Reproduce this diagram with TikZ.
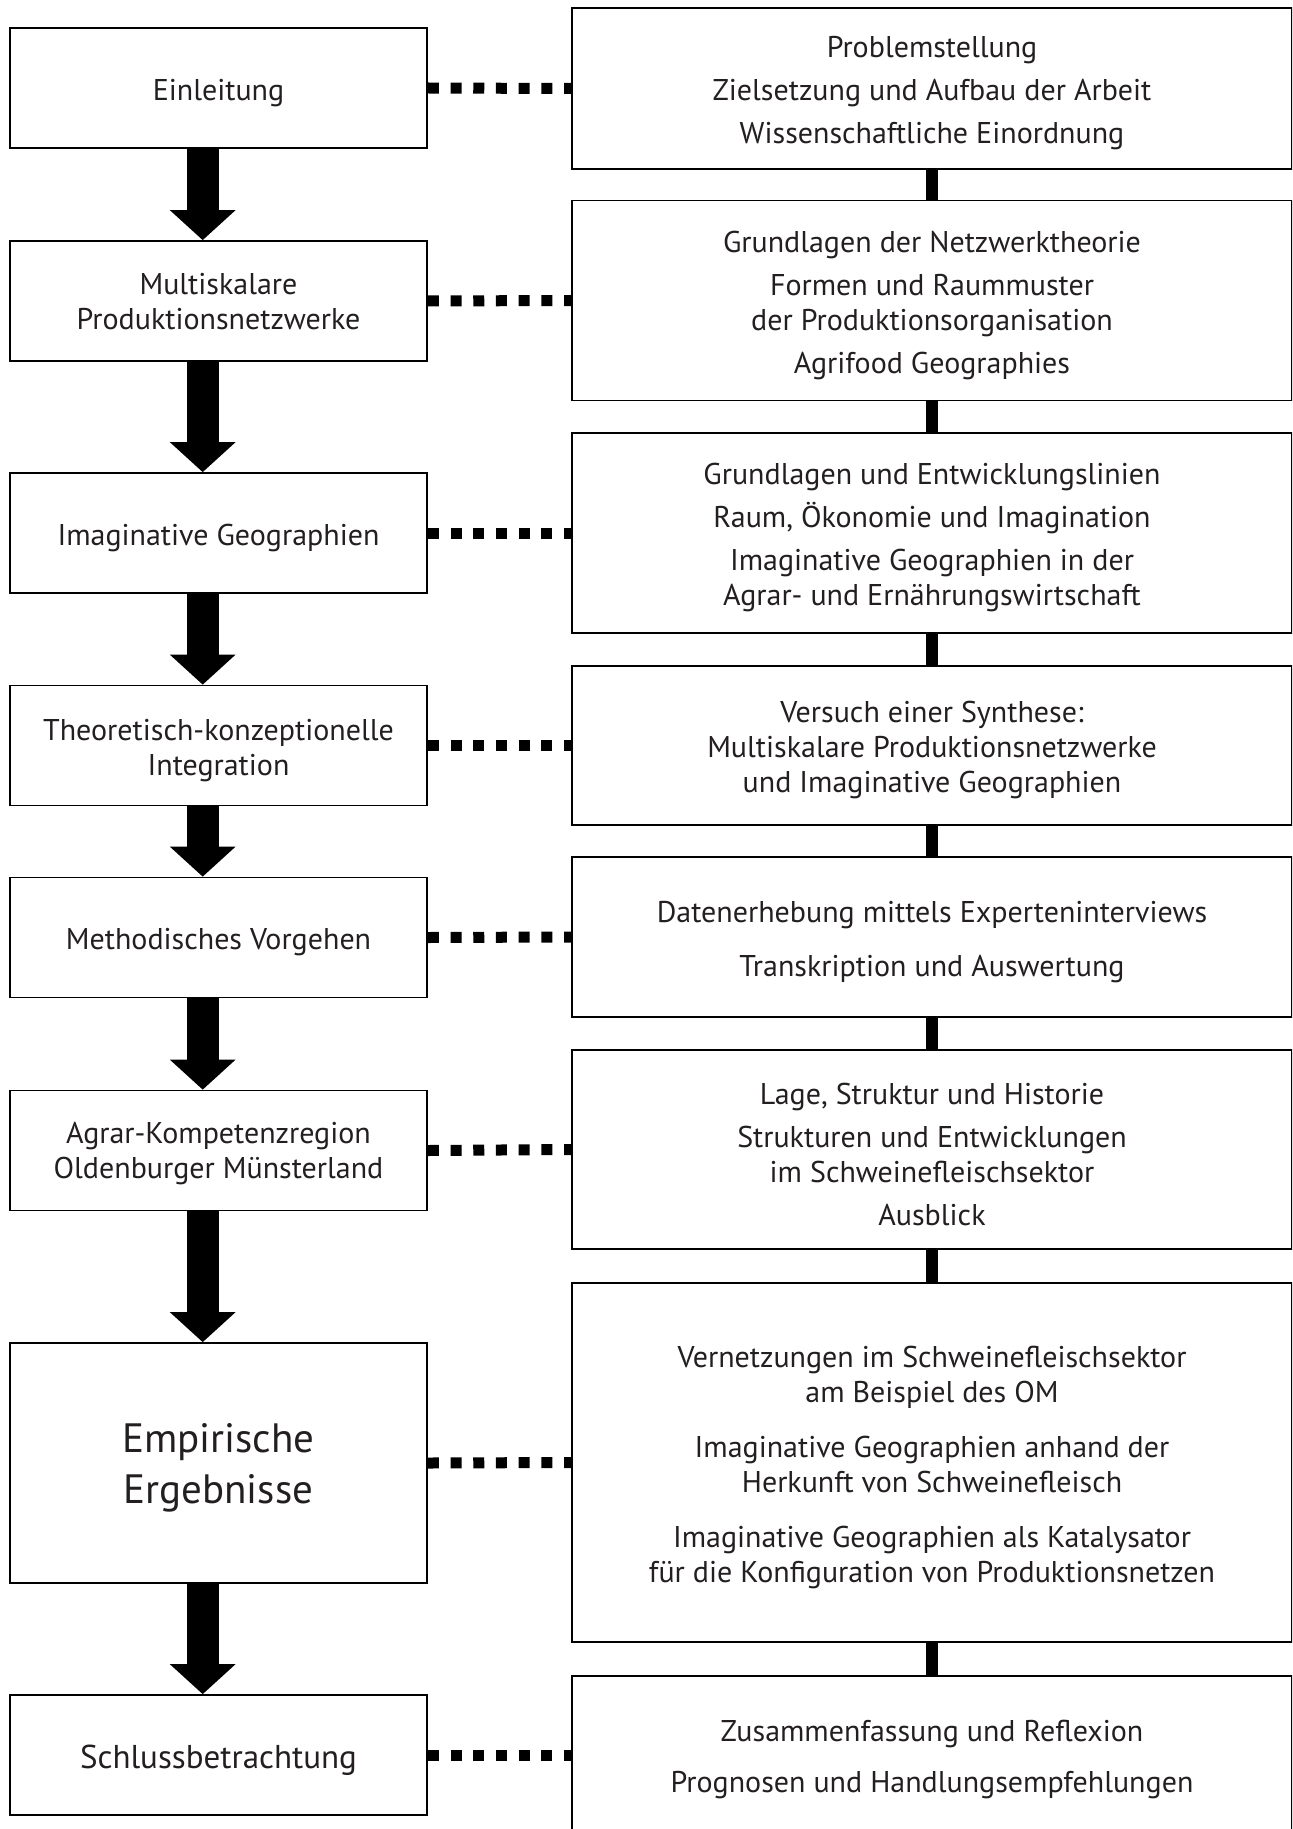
\documentclass[tikz,border=0pt]{standalone}
\usepackage{fontspec}
\setmainfont{PT Sans}
\usetikzlibrary{arrows.meta,calc}
\definecolor{ink}{HTML}{231F20}
\newcommand{\txtfont}{\fontsize{15pt}{17.5pt}\selectfont}
\newcommand{\bigtxtfont}{\fontsize{20.5pt}{25.5pt}\selectfont}
\newcommand{\lasttxtfont}{\fontsize{16.5pt}{19pt}\selectfont}
% zero-width rule on the first line: sets the text block a little below the box middle
\newcommand{\leadrule}[1][15.5pt]{\rule{0pt}{#1}}
\begin{document}
\begin{tikzpicture}[x=0.5pt,y=-0.5pt,
  boxtext/.style={inner sep=0pt, align=center, text=ink},
  chapter/.style={draw=black, line width=0.85pt, minimum width=208.5pt,
    minimum height=60pt, boxtext, font=\txtfont},
  topics/.style={draw=black, line width=0.85pt, minimum width=360pt,
    boxtext, font=\txtfont},
  dotlink/.style={line width=5.5pt, dash pattern=on 5.5pt off 5.85pt},
  joinbar/.style={line width=5.85pt},
  flowarrow/.style={line width=16pt, -{Triangle[length=15pt,width=32pt]}}
]
\clip (0,0) rectangle (1292,1829);

% chapter column
\node[chapter] (c1) at (218.5,88) {\leadrule Einleitung};
\node[chapter] (c2) at (218.5,301) {\leadrule[11.5pt]Multiskalare\\Produktionsnetzwerke};
\node[chapter] (c3) at (218.5,533) {\leadrule Imaginative Geographien};
\node[chapter] (c4) at (218.5,745.5) {\leadrule Theoretisch-konzeptionelle\\Integration};
\node[chapter] (c5) at (218.5,937.5) {\leadrule Methodisches Vorgehen};
\node[chapter] (c6) at (218.5,1150.5) {\leadrule[14pt]Agrar-Kompetenzregion\\Oldenburger Münsterland};
\node[chapter, minimum height=120pt, font=\bigtxtfont] (c7) at (218.5,1463) {\leadrule[19.5pt]Empirische\\Ergebnisse};
\node[chapter, font=\lasttxtfont] (c8) at (218.5,1755) {\leadrule[17pt]Schlussbetrachtung};

% topic column
\node[topics, minimum height=80.5pt] (t1) at (932,88.5)
  {\leadrule Problemstellung\\[4pt]Zielsetzung und Aufbau der Arbeit\\[4pt]Wissenschaftliche Einordnung};
\node[topics, minimum height=100pt] (t2) at (932,300.5)
  {\leadrule Grundlagen der Netzwerktheorie\\[4pt]Formen und Raummuster\\der Produktionsorganisation\\[4pt]Agrifood Geographies};
\node[topics, minimum height=100pt] (t3) at (932,533)
  {\leadrule Grundlagen und Entwicklungslinien\\[4pt]Raum, Ökonomie und Imagination\\[4pt]Imaginative Geographien in der\\Agrar- und Ernährungswirtschaft};
\node[topics, minimum height=79.5pt] (t4) at (932,745.5)
  {\leadrule Versuch einer Synthese:\\Multiskalare Produktionsnetzwerke\\und Imaginative Geographien};
\node[topics, minimum height=80pt] (t5) at (932,937)
  {\leadrule Datenerhebung mittels Experteninterviews\\[9.5pt]Transkription und Auswertung};
\node[topics, minimum height=99.5pt] (t6) at (932,1149.5)
  {\leadrule Lage, Struktur und Historie\\[4pt]Strukturen und Entwicklungen\\im Schweinefleischsektor\\[4pt]Ausblick};
\node[topics, minimum height=179.5pt] (t7) at (932,1462.5)
  {\leadrule Vernetzungen im Schweinefleischsektor\\am Beispiel des OM\\[10pt]Imaginative Geographien anhand der\\Herkunft von Schweinefleisch\\[10pt]Imaginative Geographien als Katalysator\\für die Konfiguration von Produktionsnetzen};
\node[topics, minimum height=79pt] (t8) at (932,1755)
  {\leadrule Zusammenfassung und Reflexion\\[8pt]Prognosen und Handlungsempfehlungen};

% flow arrows between chapters
\foreach \a/\b in {c1/c2,c2/c3,c3/c4,c4/c5,c5/c6,c6/c7,c7/c8}
  \draw[flowarrow] ($(\a.south)+(-15.8,0)$) -- ($(\b.north)+(-15.8,0)$);

% dotted links chapter -> topics
\foreach \i in {1,...,8}
  \draw[dotlink] (c\i.east) -- (t\i.west);

% bars joining the topic boxes
\foreach \a/\b in {t1/t2,t2/t3,t3/t4,t4/t5,t5/t6,t6/t7,t7/t8}
  \draw[joinbar] (\a.south) -- (\b.north);
\end{tikzpicture}
\end{document}
